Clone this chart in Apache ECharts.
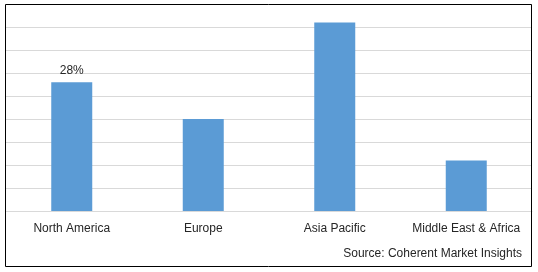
<!DOCTYPE html>
<html><head><meta charset="utf-8">
<script src="https://cdn.jsdelivr.net/npm/echarts@6/dist/echarts.min.js"></script>
<style>html,body{margin:0;padding:0;background:#fff}#c{width:538px;height:272px}</style>
</head><body><div id="c"></div>
<script>
const categories = ["North America", "Europe", "Asia Pacific", "Middle East & Africa"];
const values = [28, 20, 41, 11];
const labelShown = [true, false, false, false];
const sourceText = "Source: Coherent Market Insights";

const chart = echarts.init(document.getElementById('c'), null, {renderer: 'canvas'});
const font = 'Liberation Sans, Arial, sans-serif';
chart.setOption({
  animation: false,
  grid: {left: 6, right: 6, top: 4, bottom: 61, containLabel: false},
  xAxis: {
    type: 'category', data: categories,
    axisLine: {show: true, lineStyle: {color: '#d9d9d9', width: 1}},
    axisTick: {show: false},
    axisLabel: {color: '#262626', fontFamily: font, fontSize: 12, margin: 12, interval: 0}
  },
  yAxis: {
    type: 'value', min: 0, max: 45, interval: 5,
    axisLabel: {show: false}, axisLine: {show: false}, axisTick: {show: false},
    splitLine: {lineStyle: {color: '#d9d9d9', width: 1}}
  },
  series: [{
    type: 'bar', barWidth: 41,
    itemStyle: {color: '#5b9bd5'},
    data: values.map((v, i) => ({value: v, label: {show: labelShown[i]}})),
    label: {position: 'top', formatter: '{c}%', color: '#262626', fontFamily: font, fontSize: 12, distance: 6}
  }],
  graphic: [
    {type: 'rect', shape: {x: 5.5, y: 4.5, width: 526, height: 262}, style: {fill: null, stroke: '#000', lineWidth: 1}, z: 100},
    {type: 'text', right: 16, top: 248, style: {text: sourceText, fill: '#262626', font: '12px ' + font}}
  ]
});
</script></body></html>
